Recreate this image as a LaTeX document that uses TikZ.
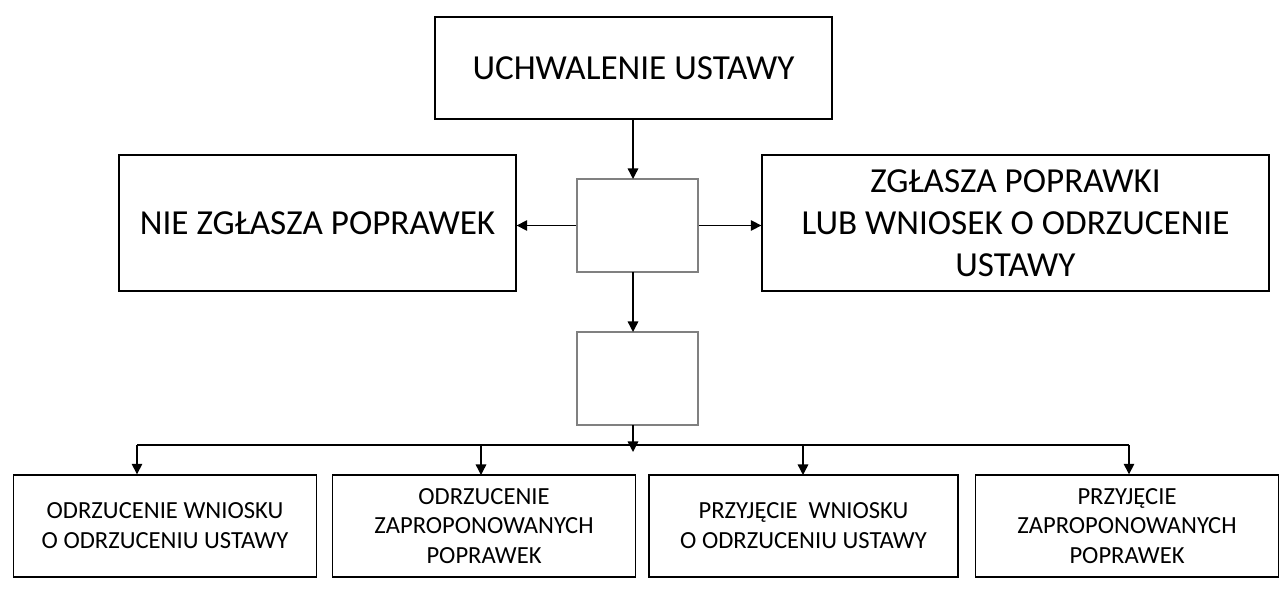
\documentclass[tikz,border=0pt]{standalone}
\usepackage{fontspec}
\setmainfont{Carlito}
\usetikzlibrary{arrows.meta}
\tikzset{
  box/.style={draw, thick, align=center, inner sep=2pt},
  bigbox/.style={box, font=\fontsize{20}{24}\selectfont},
  smallbox/.style={box, font=\fontsize{14}{17}\selectfont, minimum width=6.06cm, minimum height=2.04cm},
  emptybox/.style={draw=gray, thick, minimum width=2.42cm, minimum height=1.86cm},
  arr/.style={thick, -{Triangle[length=6pt,width=6pt]}}
}
\begin{document}
\begin{tikzpicture}[x=0.02cm, y=-0.02cm]
\useasboundingbox (0,0) rectangle (1280,608);

\node[bigbox, minimum width=7.94cm, minimum height=2.04cm] (uchw) at (633.5,68) {UCHWALENIE USTAWY};
\node[bigbox, minimum width=7.94cm, minimum height=2.72cm] (nie) at (317.5,223) {NIE ZGŁASZA POPRAWEK};
\node[bigbox, minimum width=10.14cm, minimum height=2.72cm] (zgl) at (1015.5,223) {ZGŁASZA POPRAWKI\\LUB WNIOSEK O ODRZUCENIE\\USTAWY};
\node[emptybox] (m1) at (637.5,225.5) {};
\node[emptybox] (m2) at (637.5,378.5) {};

\node[smallbox] (odw) at (165,526) {ODRZUCENIE WNIOSKU\\O ODRZUCENIU USTAWY};
\node[smallbox] (odp) at (484,526) {ODRZUCENIE\\ZAPROPONOWANYCH\\POPRAWEK};
\node[smallbox, minimum width=6.18cm] (prw) at (803.5,526) {PRZYJĘCIE\ \ WNIOSKU\\O ODRZUCENIU USTAWY};
\node[smallbox] (prp) at (1127,526) {PRZYJĘCIE\\ZAPROPONOWANYCH\\POPRAWEK};

\coordinate (busL) at (137,445);
\coordinate (busR) at (1129,445);
\coordinate (busM) at (633,452);

\draw[arr] (uchw.south -| 633,0) -- (633,179);
\draw[arr] (m1.west) -- (m1.west -| nie.east);
\draw[arr] (m1.east) -- (m1.east -| zgl.west);
\draw[arr] (633,272) -- (633,332);
\draw[arr] (633,425) -- (busM);
\draw[thick] (busL) -- (busR);
\draw[arr] (busL) -- (busL |- odw.north);
\draw[arr] (481,445) -- (481,475);
\draw[arr] (803,445) -- (803,475);
\draw[arr] (busR) -- (busR |- prp.north);

\end{tikzpicture}
\end{document}
